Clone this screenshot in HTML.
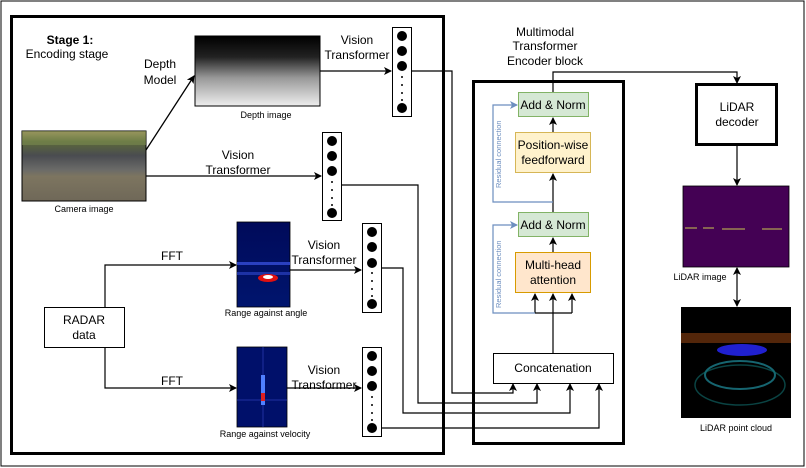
<!DOCTYPE html>
<html><head><style>
body{margin:0;background:#fff;}
svg{display:block;font-family:"Liberation Sans",sans-serif;}
</style></head><body>
<svg width="806" height="468" viewBox="0 0 806 468" xmlns="http://www.w3.org/2000/svg">
<defs>
<marker id="a" markerWidth="8" markerHeight="8" refX="7" refY="4" orient="auto" markerUnits="userSpaceOnUse"><path d="M0,0 L8,4 L0,8 L2,4z" fill="#000"/></marker>
<marker id="ab" markerWidth="8" markerHeight="8" refX="7" refY="4" orient="auto" markerUnits="userSpaceOnUse"><path d="M0,0 L8,4 L0,8 L2,4z" fill="#6c8ebf"/></marker>
<linearGradient id="dep" x1="0" y1="0" x2="0" y2="1"><stop offset="0" stop-color="#000"/><stop offset="0.3" stop-color="#222"/><stop offset="0.6" stop-color="#999"/><stop offset="1" stop-color="#eee"/></linearGradient>
<linearGradient id="cam" x1="0" y1="0" x2="0" y2="1"><stop offset="0" stop-color="#c8a870"/><stop offset="0.15" stop-color="#5d6a3a"/><stop offset="0.35" stop-color="#4a4c50"/><stop offset="0.55" stop-color="#6a6a68"/><stop offset="0.65" stop-color="#7d7560"/><stop offset="1" stop-color="#6f6858"/></linearGradient>
<linearGradient id="ra" x1="0" y1="0" x2="0" y2="1"><stop offset="0" stop-color="#000a5a"/><stop offset="1" stop-color="#00156e"/></linearGradient>
</defs>
<rect x="1" y="1" width="803" height="465" fill="none" stroke="#000" stroke-width="1"/>
<rect x="11.5" y="16.5" width="432" height="437" fill="none" stroke="#000" stroke-width="3"/>
<text x="70" y="44" font-size="12" font-weight="bold" text-anchor="middle">Stage 1:</text>
<text x="67" y="58" font-size="12" text-anchor="middle">Encoding stage</text>
<text x="160" y="68" font-size="12" text-anchor="middle">Depth</text>
<text x="160" y="84" font-size="12" text-anchor="middle">Model</text>
<!-- depth image -->
<rect x="195" y="36" width="125" height="70" fill="url(#dep)" stroke="#000" stroke-width="1"/>
<text x="266" y="118" font-size="9" text-anchor="middle">Depth image</text>
<!-- camera -->
<rect x="22" y="131" width="124" height="70" fill="url(#cam)" stroke="#000" stroke-width="1"/>
<rect x="22" y="131" width="124" height="14" fill="#7a8a50" opacity="0.6"/>
<text x="84" y="212" font-size="9" text-anchor="middle">Camera image</text>
<line x1="146" y1="150" x2="194" y2="76" stroke="#000" stroke-width="1.3" marker-end="url(#a)"/>
<!-- vectors -->
<g fill="#000">
<rect x="392.5" y="27.5" width="19" height="89" fill="#fff" stroke="#000"/>
<circle cx="402" cy="36" r="5"/><circle cx="402" cy="51" r="5"/><circle cx="402" cy="66" r="5"/><circle cx="402" cy="108" r="5"/>
<circle cx="402" cy="77" r="1"/><circle cx="402" cy="85" r="1"/><circle cx="402" cy="93" r="1"/><circle cx="402" cy="100" r="1"/>
<rect x="322.5" y="132.5" width="19" height="88" fill="#fff" stroke="#000"/>
<circle cx="332" cy="141" r="5"/><circle cx="332" cy="156" r="5"/><circle cx="332" cy="171" r="5"/><circle cx="332" cy="213" r="5"/>
<circle cx="332" cy="182" r="1"/><circle cx="332" cy="190" r="1"/><circle cx="332" cy="198" r="1"/><circle cx="332" cy="205" r="1"/>
<rect x="362.5" y="223.5" width="19" height="89" fill="#fff" stroke="#000"/>
<circle cx="372" cy="232" r="5"/><circle cx="372" cy="247" r="5"/><circle cx="372" cy="263" r="5"/><circle cx="372" cy="304" r="5"/>
<circle cx="372" cy="273" r="1"/><circle cx="372" cy="281" r="1"/><circle cx="372" cy="289" r="1"/><circle cx="372" cy="296" r="1"/>
<rect x="362.5" y="347.5" width="19" height="89" fill="#fff" stroke="#000"/>
<circle cx="372" cy="356" r="5"/><circle cx="372" cy="371" r="5"/><circle cx="372" cy="386" r="5"/><circle cx="372" cy="428" r="5"/>
<circle cx="372" cy="397" r="1"/><circle cx="372" cy="405" r="1"/><circle cx="372" cy="413" r="1"/><circle cx="372" cy="420" r="1"/>
</g>
<g font-size="12" text-anchor="middle">
<text x="357" y="44">Vision</text><text x="357" y="59">Transformer</text>
<text x="238" y="159">Vision</text><text x="238" y="174">Transformer</text>
<text x="324" y="249">Vision</text><text x="324" y="264">Transformer</text>
<text x="324" y="374">Vision</text><text x="324" y="389">Transformer</text>
<text x="172" y="260">FFT</text><text x="172" y="385">FFT</text>
</g>
<line x1="320" y1="71" x2="391" y2="71" stroke="#000" stroke-width="1.3" marker-end="url(#a)"/>
<line x1="146" y1="176" x2="321" y2="176" stroke="#000" stroke-width="1.3" marker-end="url(#a)"/>
<!-- radar images -->
<rect x="237" y="222" width="53" height="85" fill="url(#ra)" stroke="#000" stroke-width="0.8"/>
<rect x="237" y="262" width="53" height="3" fill="#2a40c0"/>
<rect x="237" y="272" width="53" height="3" fill="#2a40c0" opacity="0.7"/>
<ellipse cx="268" cy="278" rx="10" ry="4" fill="#e01010"/><ellipse cx="268" cy="277" rx="5" ry="2" fill="#fff"/>
<text x="266" y="316" font-size="9" text-anchor="middle">Range against angle</text>
<rect x="237" y="347" width="50" height="80" fill="#00106a" stroke="#000" stroke-width="0.8"/>
<line x1="237" y1="400" x2="287" y2="400" stroke="#2030a0"/>
<line x1="263" y1="347" x2="263" y2="427" stroke="#2030a0"/>
<rect x="261" y="375" width="4" height="30" fill="#5080ff"/><rect x="261" y="393" width="4" height="8" fill="#e02020"/>
<text x="265" y="437" font-size="9" text-anchor="middle">Range against velocity</text>
<!-- radar box -->
<rect x="44.5" y="307.5" width="80" height="40" fill="#fff" stroke="#000"/>
<text x="84" y="324" font-size="12" text-anchor="middle">RADAR</text>
<text x="84" y="339" font-size="12" text-anchor="middle">data</text>
<polyline points="105,307 105,265 236,265" fill="none" stroke="#000" stroke-width="1.2" marker-end="url(#a)"/>
<polyline points="105,348 105,388 236,388" fill="none" stroke="#000" stroke-width="1.2" marker-end="url(#a)"/>
<line x1="290" y1="270" x2="361" y2="270" stroke="#000" stroke-width="1.2" marker-end="url(#a)"/>
<line x1="287" y1="388" x2="361" y2="388" stroke="#000" stroke-width="1.2" marker-end="url(#a)"/>
<!-- connectors -->
<g fill="none" stroke="#000" stroke-width="1.2">
<polyline points="412,71 452,71 452,393 513,393 513,384" marker-end="url(#a)"/>
<polyline points="342,185 418,185 418,403 537,403 537,384" marker-end="url(#a)"/>
<polyline points="382,268 403,268 403,413 570,413 570,384" marker-end="url(#a)"/>
<polyline points="382,428 599,428 599,384" marker-end="url(#a)"/>
</g>
<!-- encoder -->
<text x="545" y="36" font-size="12" text-anchor="middle">Multimodal</text>
<text x="545" y="50" font-size="12" text-anchor="middle">Transformer</text>
<text x="545" y="65" font-size="12" text-anchor="middle">Encoder block</text>
<rect x="473.5" y="81.5" width="150" height="362" fill="none" stroke="#000" stroke-width="3"/>
<polyline points="553,92 553,72 737,72 737,83" fill="none" stroke="#000" stroke-width="1.2" marker-end="url(#a)"/>
<rect x="518.5" y="92.5" width="70" height="24" fill="#d5e8d4" stroke="#82b366"/>
<text x="553" y="109" font-size="12" text-anchor="middle">Add &amp; Norm</text>
<rect x="515.5" y="132.5" width="75" height="40" fill="#fff2cc" stroke="#d6b656"/>
<text x="553" y="149" font-size="12" text-anchor="middle">Position-wise</text>
<text x="553" y="164" font-size="12" text-anchor="middle">feedforward</text>
<rect x="518.5" y="212.5" width="70" height="24" fill="#d5e8d4" stroke="#82b366"/>
<text x="553" y="229" font-size="12" text-anchor="middle">Add &amp; Norm</text>
<rect x="515.5" y="252.5" width="75" height="40" fill="#ffe6cc" stroke="#d79b00"/>
<text x="553" y="269" font-size="12" text-anchor="middle">Multi-head</text>
<text x="553" y="284" font-size="12" text-anchor="middle">attention</text>
<rect x="493.5" y="353.5" width="120" height="30" fill="#fff" stroke="#000"/>
<text x="553" y="372" font-size="12" text-anchor="middle">Concatenation</text>
<g fill="none" stroke="#000" stroke-width="1.2">
<line x1="553" y1="353" x2="553" y2="294" marker-end="url(#a)"/>
<polyline points="535,313 572,313"/>
<line x1="535" y1="313" x2="535" y2="294" marker-end="url(#a)"/>
<line x1="572" y1="313" x2="572" y2="294" marker-end="url(#a)"/>
<line x1="553" y1="252" x2="553" y2="238" marker-end="url(#a)"/>
<line x1="553" y1="212" x2="553" y2="174" marker-end="url(#a)"/>
<line x1="553" y1="132" x2="553" y2="118" marker-end="url(#a)"/>
</g>
<g fill="none" stroke="#6c8ebf" stroke-width="1.2">
<polyline points="535,313 493,313 493,225 517,225" marker-end="url(#ab)"/>
<polyline points="553,202 493,202 493,105 517,105" marker-end="url(#ab)"/>
</g>
<text transform="translate(501,188) rotate(-90)" font-size="7.5" fill="#6c8ebf">Residual connection</text>
<text transform="translate(501,308) rotate(-90)" font-size="7.5" fill="#6c8ebf">Residual connection</text>
<!-- lidar -->
<rect x="696.5" y="84.5" width="80" height="60" fill="#fff" stroke="#000" stroke-width="3"/>
<text x="737" y="111" font-size="12" text-anchor="middle">LiDAR</text>
<text x="737" y="126" font-size="12" text-anchor="middle">decoder</text>
<line x1="737" y1="146" x2="737" y2="185" stroke="#000" stroke-width="1.2" marker-end="url(#a)"/>
<rect x="683" y="186" width="106" height="81" fill="#440154" stroke="#000" stroke-width="0.8"/>
<g stroke="#c8c850" stroke-width="1"><line x1="685" y1="228" x2="697" y2="228"/><line x1="703" y1="228" x2="714" y2="228"/><line x1="722" y1="229" x2="745" y2="229"/><line x1="762" y1="229" x2="782" y2="229"/></g>
<text x="700" y="280" font-size="9" text-anchor="middle">LiDAR image</text>
<line x1="737" y1="280" x2="737" y2="268" stroke="#000" stroke-width="1.2" marker-end="url(#a)"/>
<line x1="737" y1="280" x2="737" y2="306" stroke="#000" stroke-width="1.2" marker-end="url(#a)"/>
<rect x="681" y="307" width="110" height="111" fill="#000"/>
<rect x="681" y="333" width="110" height="10" fill="#8a4010" opacity="0.6"/>
<ellipse cx="742" cy="350" rx="25" ry="6" fill="#2020d0"/>
<ellipse cx="740" cy="375" rx="35" ry="14" fill="none" stroke="#2090a0" stroke-width="2" opacity="0.7"/>
<ellipse cx="740" cy="385" rx="45" ry="20" fill="none" stroke="#107070" stroke-width="1.5" opacity="0.6"/>
<text x="736" y="431" font-size="9" text-anchor="middle">LiDAR point cloud</text>
</svg>
</body></html>
